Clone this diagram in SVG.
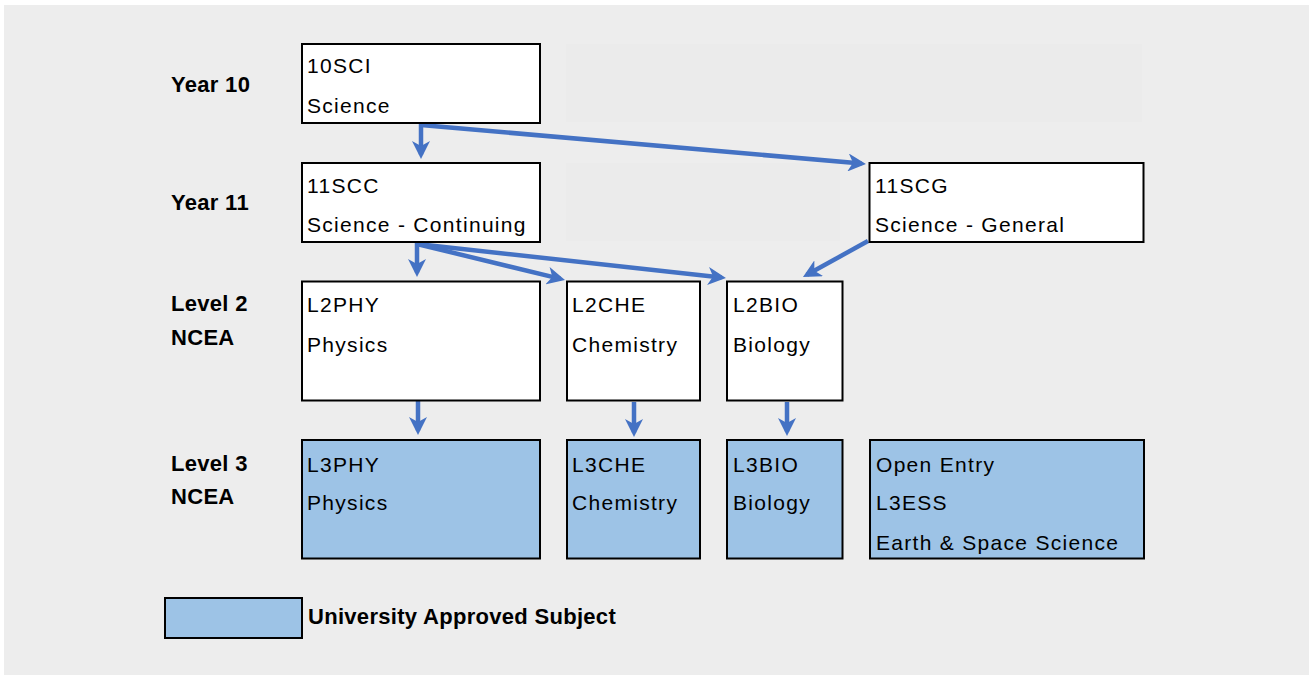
<svg xmlns="http://www.w3.org/2000/svg" width="1309" height="675" viewBox="0 0 1309 675">
<style>
.bg{fill:#ededed}
.faint{fill:#ebebeb}
.box{fill:#ffffff;stroke:#000000;stroke-width:2}
.ua{fill:#9dc3e6;stroke:#000000;stroke-width:2}
.t{font-family:"Liberation Sans",Arial,sans-serif;font-size:21px;letter-spacing:1.3px;fill:#000000}
.lbl{font-family:"Liberation Sans",Arial,sans-serif;font-size:22px;font-weight:bold;letter-spacing:0.3px;fill:#000000}
.conn{fill:none;stroke:#4472c4;stroke-width:4.5;marker-end:url(#ah)}
</style>
<defs>
<marker id="ah" viewBox="0 0 18 18" refX="13.5" refY="9" markerWidth="18" markerHeight="18" markerUnits="userSpaceOnUse" orient="auto">
<path d="M0,0 L18,9 L0,18 L5,9 z" fill="#4472c4"/>
</marker>
</defs>
<rect x="0" y="0" width="1309" height="675" fill="#ffffff"/>
<rect class="bg" x="4" y="5" width="1305" height="670"/>
<rect class="faint" x="566" y="44" width="576" height="78"/>
<rect class="faint" x="566" y="163" width="274" height="78"/>

<g id="labels">
<text class="lbl" x="171" y="92">Year 10</text>
<text class="lbl" x="171" y="210">Year 11</text>
<text class="lbl" x="171" y="311">Level 2</text>
<text class="lbl" x="171" y="345">NCEA</text>
<text class="lbl" x="171" y="471">Level 3</text>
<text class="lbl" x="171" y="504">NCEA</text>
</g>

<g id="connectors">
<path class="conn" d="M421,123 L421,154.5"/>
<path class="conn" d="M421,125 L861.5,163.6"/>
<path class="conn" d="M417,242 L417,272.5"/>
<path class="conn" d="M417,244 L560.6,278.9"/>
<path class="conn" d="M417,244 L721.5,277.5"/>
<path class="conn" d="M868,241 L806.9,274.8"/>
<path class="conn" d="M418,401 L418,430.5"/>
<path class="conn" d="M634,402 L634,432.5"/>
<path class="conn" d="M787,402 L787,431.5"/>
</g>

<g id="n10SCI">
<rect class="box" x="302" y="44" width="238" height="79"/>
<text class="t" x="307" y="73">10SCI</text>
<text class="t" x="307" y="113">Science</text>
</g>
<g id="n11SCC">
<rect class="box" x="302" y="163" width="238" height="79"/>
<text class="t" x="307" y="193">11SCC</text>
<text class="t" x="307" y="232">Science - Continuing</text>
</g>
<g id="n11SCG">
<rect class="box" x="869.5" y="163" width="274" height="79"/>
<text class="t" x="875" y="193">11SCG</text>
<text class="t" x="875" y="232">Science - General</text>
</g>
<g id="nL2PHY">
<rect class="box" x="302" y="281.5" width="238" height="119"/>
<text class="t" x="307" y="312">L2PHY</text>
<text class="t" x="307" y="352">Physics</text>
</g>
<g id="nL2CHE">
<rect class="box" x="567" y="281.5" width="133" height="119"/>
<text class="t" x="572" y="312">L2CHE</text>
<text class="t" x="572" y="352">Chemistry</text>
</g>
<g id="nL2BIO">
<rect class="box" x="727" y="281.5" width="115.5" height="119"/>
<text class="t" x="733" y="312">L2BIO</text>
<text class="t" x="733" y="352">Biology</text>
</g>
<g id="nL3PHY">
<rect class="ua" x="302" y="440" width="238" height="118.5"/>
<text class="t" x="307" y="472">L3PHY</text>
<text class="t" x="307" y="510">Physics</text>
</g>
<g id="nL3CHE">
<rect class="ua" x="567" y="440" width="133" height="118.5"/>
<text class="t" x="572" y="472">L3CHE</text>
<text class="t" x="572" y="510">Chemistry</text>
</g>
<g id="nL3BIO">
<rect class="ua" x="727" y="440" width="115.5" height="118.5"/>
<text class="t" x="733" y="472">L3BIO</text>
<text class="t" x="733" y="510">Biology</text>
</g>
<g id="nL3ESS">
<rect class="ua" x="870" y="440" width="274" height="118.5"/>
<text class="t" x="876" y="472">Open Entry</text>
<text class="t" x="876" y="510">L3ESS</text>
<text class="t" x="876" y="550">Earth &amp; Space Science</text>
</g>
<g id="legend">
<rect class="ua" x="165" y="598" width="137" height="40"/>
<text class="lbl" x="308" y="624">University Approved Subject</text>
</g>
</svg>
